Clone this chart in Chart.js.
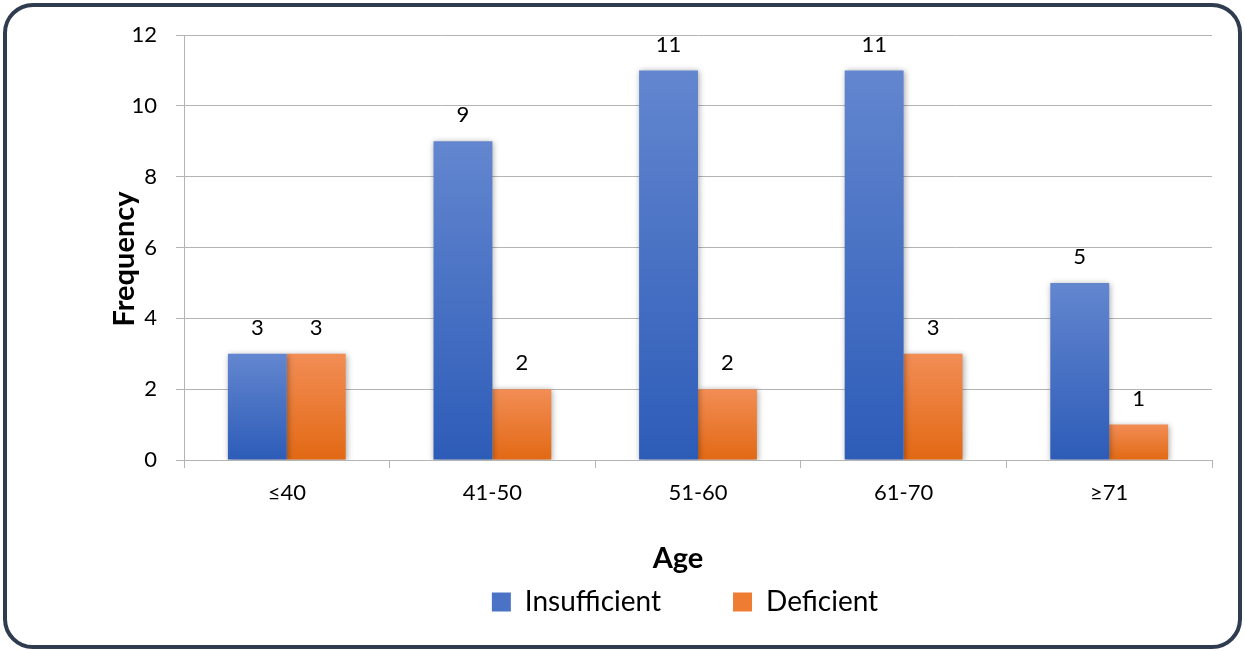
<!DOCTYPE html>
<html>
<head>
<meta charset="utf-8">
<script src="https://cdn.jsdelivr.net/npm/chart.js@4.4.0/dist/chart.umd.min.js"></script>
<style>
  body { margin: 0; background: #fff; }
  #frame {
    position: absolute; left: 3px; top: 3px; width: 1231px; height: 638px;
    border: 4px solid #2f3b4f; border-radius: 30px;
  }
  #myChart { position: absolute; left: 0; top: 0; }
</style>
</head>
<body>
<div id="frame"></div>
<canvas id="myChart" width="1245" height="651"></canvas>
<script>
const ageGroups = ['≤40', '41-50', '51-60', '61-70', '≥71'];
const insufficient = [3, 9, 11, 11, 5];
const deficient = [3, 2, 2, 3, 1];
const yTicks = [0, 2, 4, 6, 8, 10, 12];

const FONT = 'Lato, "Open Sans", sans-serif';

function barGradient(top, bottom) {
  return function (ctx) {
    const chart = ctx.chart;
    const y = chart.scales.y;
    if (!y || ctx.raw === undefined) return bottom;
    const y0 = y.getPixelForValue(0);
    const y1 = y.getPixelForValue(ctx.raw);
    if (!isFinite(y0) || !isFinite(y1) || y0 === y1) return bottom;
    const g = chart.ctx.createLinearGradient(0, y1, 0, y0);
    g.addColorStop(0, top);
    g.addColorStop(1, bottom);
    return g;
  };
}

// soft shadow under the bars
const barShadow = {
  id: 'barShadow',
  beforeDatasetDraw(chart) {
    const c = chart.ctx;
    c.save();
    c.shadowColor = 'rgba(0,0,0,0.35)';
    c.shadowBlur = 6;
    c.shadowOffsetX = 1;
    c.shadowOffsetY = 1;
  },
  afterDatasetDraw(chart) {
    chart.ctx.restore();
  }
};

// value labels above bars
const valueLabels = {
  id: 'valueLabels',
  afterDatasetsDraw(chart) {
    const c = chart.ctx;
    c.save();
    c.font = '22px ' + FONT;
    c.fillStyle = '#000';
    c.textAlign = 'center';
    c.textBaseline = 'middle';
    chart.data.datasets.forEach((ds, i) => {
      chart.getDatasetMeta(i).data.forEach((bar, j) => {
        c.fillText(ds.data[j], bar.x, bar.y - 26);
      });
    });
    c.restore();
  }
};

// axis titles, placed like the original (slightly off the plot centre)
const axisTitles = {
  id: 'axisTitles',
  afterDraw(chart) {
    const c = chart.ctx;
    c.save();
    c.font = 'bold 29px ' + FONT;
    c.fillStyle = '#000';
    c.textAlign = 'center';
    c.textBaseline = 'middle';
    c.fillText('Age', 678, 559);
    c.translate(125, 259);
    c.rotate(-Math.PI / 2);
    c.fillText('Frequency', 0, 0);
    c.restore();
  }
};

// nudge the legend to the right
const legendShift = {
  id: 'legendShift',
  afterLayout(chart) {
    chart.legend.left += 25;
    chart.legend.right += 25;
  }
};

new Chart('myChart', {
  type: 'bar',
  data: {
    labels: ageGroups,
    datasets: [{
      label: 'Insufficient',
      data: insufficient,
      backgroundColor: barGradient('#6386cf', '#2d5cb8'),
      legendColor: '#4a73c6',
      barPercentage: 1,
      categoryPercentage: 0.573
    }, {
      label: 'Deficient',
      data: deficient,
      backgroundColor: barGradient('#f28d55', '#e26914'),
      legendColor: '#ee7c33',
      barPercentage: 1,
      categoryPercentage: 0.573
    }]
  },
  options: {
    responsive: false,
    animation: false,
    layout: { padding: { left: 108, right: 33, top: 35, bottom: 25 } },
    scales: {
      y: {
        min: 0, max: 12,
        afterBuildTicks(scale) { scale.ticks = yTicks.map(v => ({ value: v })); },
        afterFit(scale) { scale.width = 76; },
        ticks: { font: { family: FONT, size: 22 }, color: '#000', padding: 19 },
        grid: { color: '#b4b4b4', lineWidth: 1, tickLength: 8 },
        border: { color: '#b4b4b4' }
      },
      x: {
        afterFit(scale) { scale.height = 56; },
        ticks: { font: { family: FONT, size: 22 }, color: '#000', padding: 12 },
        grid: { drawOnChartArea: false, color: '#b4b4b4', tickLength: 8 },
        border: { color: '#b4b4b4' }
      }
    },
    plugins: {
      legend: {
        position: 'bottom',
        labels: {
          font: { family: FONT, size: 28 },
          color: '#000',
          boxWidth: 19, boxHeight: 19,
          padding: 72,
          generateLabels(chart) {
            return chart.data.datasets.map((ds, i) => ({
              text: ds.label,
              fillStyle: ds.legendColor,
              strokeStyle: ds.legendColor,
              lineWidth: 0,
              hidden: false,
              datasetIndex: i
            }));
          }
        }
      },
      tooltip: { enabled: false }
    }
  },
  plugins: [barShadow, valueLabels, axisTitles, legendShift]
});
</script>
</body>
</html>
